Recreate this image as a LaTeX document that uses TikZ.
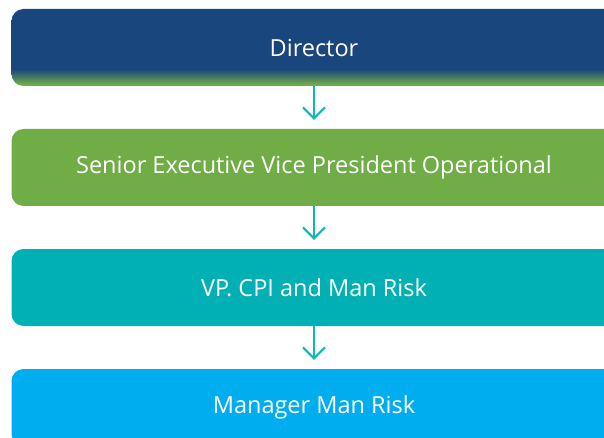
\documentclass[tikz,border=0pt]{standalone}
\usepackage{fontspec}
\setmainfont{Open Sans}
\usepackage{tikz}
\usetikzlibrary{arrows.meta}
\definecolor{dirblue}{RGB}{25,70,125}
\definecolor{opgreen}{RGB}{112,173,71}
\definecolor{riskteal}{RGB}{0,176,180}
\definecolor{mgrblue}{RGB}{0,173,239}
\definecolor{arrowteal}{RGB}{14,182,190}
% blue fading into green at the foot of the box
\pgfdeclareverticalshading{dirfade}{100bp}{color(0bp)=(opgreen); color(26bp)=(opgreen); color(36bp)=(dirblue); color(100bp)=(dirblue)}

\begin{document}
\begin{tikzpicture}[x=1pt, y=-1pt,
    level/.style={rounded corners=12pt, minimum width=605pt, minimum height=77pt,
      text=white, font=\fontsize{23.5}{27}\selectfont, inner sep=0pt},
    arr/.style={-{Straight Barb[length=11pt,width=22pt]}, arrowteal, line width=2pt, shorten >=9pt}]
        \useasboundingbox (0,0) rectangle (604,438);
        % Levels
        \node[level, shading=dirfade] (dir) at (314,47.5) {Director};
        \node[level, fill=opgreen] (sevp) at (314,167.5) {Senior Executive Vice President Operational};
        \node[level, fill=riskteal] (vp) at (314,287.5) {VP. CPI and Man Risk};
        \node[level, fill=mgrblue] (mgr) at (314,407.5) {Manager Man Risk};
        % Arrows
        \draw[arr] (dir) -- (sevp);
        \draw[arr] (sevp) -- (vp);
        \draw[arr] (vp) -- (mgr);
    \end{tikzpicture}
\end{document}
